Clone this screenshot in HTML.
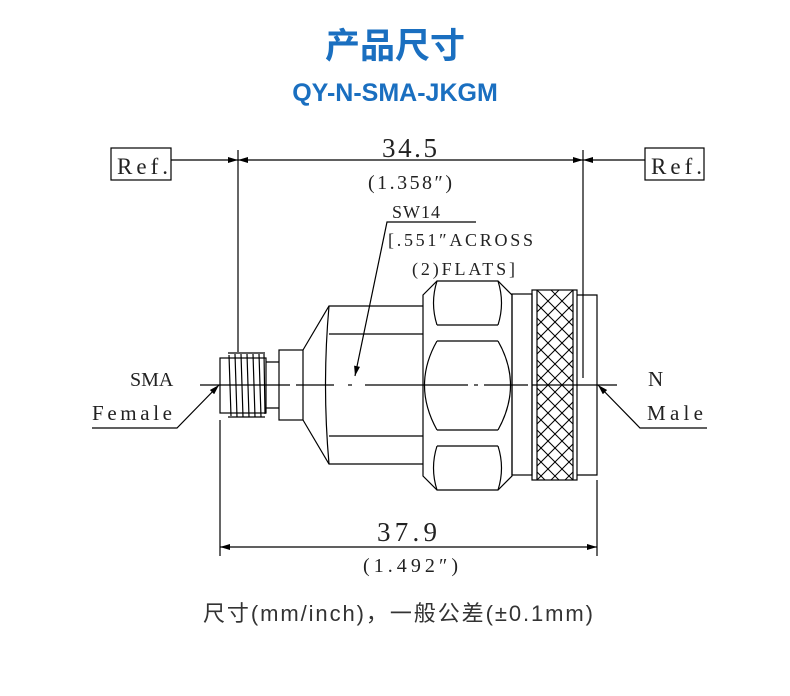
<!DOCTYPE html>
<html><head><meta charset="utf-8"><style>
body{margin:0;background:#fff;width:790px;height:696px;overflow:hidden}
svg{display:block}
.t{font-family:"Liberation Serif","Noto Serif CJK SC",serif;fill:#222}
</style></head><body>
<svg width="790" height="696" viewBox="0 0 790 696" xmlns="http://www.w3.org/2000/svg">
<defs>
<marker id="a" viewBox="0 0 10 6" refX="10" refY="3" markerWidth="14" markerHeight="6" markerUnits="userSpaceOnUse" orient="auto-start-reverse"><path d="M0,0L10,3L0,6z" fill="#000"/></marker>
<clipPath id="kc"><rect x="537" y="290" width="36" height="190"/></clipPath>
</defs>
<text x="395" y="58" text-anchor="middle" font-family="Liberation Sans,'Noto Sans CJK SC',sans-serif" font-weight="bold" font-size="35" fill="#1a6fc0">产品尺寸</text>
<text x="395" y="101" text-anchor="middle" font-family="Liberation Sans,'Noto Sans CJK SC',sans-serif" font-weight="bold" font-size="25" fill="#1a6fc0">QY-N-SMA-JKGM</text>

<g stroke="#000" stroke-width="1.2" fill="none">
<rect x="111" y="148" width="60" height="32"/>
<rect x="645" y="148" width="59" height="32"/>
<line x1="171" y1="160" x2="238" y2="160" marker-end="url(#a)"/>
<line x1="238" y1="160" x2="583" y2="160" marker-start="url(#a)" marker-end="url(#a)"/>
<line x1="645" y1="160" x2="583" y2="160" marker-end="url(#a)"/>
<line x1="238" y1="150" x2="238" y2="352"/>
<line x1="583" y1="150" x2="583" y2="378"/>
<line x1="220" y1="420" x2="220" y2="556"/>
<line x1="597" y1="480" x2="597" y2="556"/>
<line x1="220" y1="547" x2="597" y2="547" marker-start="url(#a)" marker-end="url(#a)"/>
<line x1="200" y1="385" x2="290" y2="385"/>
<line x1="296" y1="385" x2="334" y2="385"/>
<line x1="348" y1="385" x2="352" y2="385"/>
<line x1="365" y1="385" x2="468" y2="385"/>
<line x1="474" y1="385" x2="478" y2="385"/>
<line x1="484" y1="385" x2="528" y2="385"/>
<line x1="532" y1="385" x2="617" y2="385"/>
<rect x="220" y="358" width="46" height="55"/>
<path d="M228 353 L265 353 M228 417 L265 417"/>
<path d="M229 355 L231 416 M235 354 L237 417 M241 354 L243 417 M247 354 L249 417 M253 354 L255 417 M259 354 L261 417 M264 354 L265 414"/>
<path d="M266 362 L279 362 M266 408 L279 408"/>
<rect x="279" y="350" width="24" height="70"/>
<path d="M303 350 L329 306 L423 306 M303 420 L329 464 L423 464"/>
<path d="M329 306 Q322 385 329 464"/>
<path d="M329 334 L423 334 M329 436 L423 436"/>
<path d="M423 295 L437 281 L498 281 L512 295 L512 476 L498 490 L437 490 L423 476 Z"/>
<path d="M437 281 Q430 303 437 325 M498 281 Q505 303 498 325 M437 490 Q430 468 437 446 M498 490 Q505 468 498 446"/>
<path d="M437 325 L498 325 M437 341 L498 341 M437 430 L498 430 M437 446 L498 446"/>
<path d="M437 341 Q412 385 437 430 M498 341 Q523 385 498 430"/>
<rect x="512" y="294" width="20" height="181"/>
<rect x="532" y="290" width="45" height="190"/>
<path d="M537 290 L537 480 M573 290 L573 480"/>
<g clip-path="url(#kc)" stroke-width="1">
<path d="M525 292 L725 492 M525 306 L725 506 M525 320 L725 520 M525 334 L725 534 M525 348 L725 548 M525 362 L725 562 M525 376 L725 576 M525 390 L725 590 M525 404 L725 604 M525 418 L725 618 M525 432 L725 632 M525 446 L725 646 M525 460 L725 660 M525 474 L725 674 M525 278 L725 478 M525 264 L725 464"/>
<path d="M585 292 L385 492 M585 306 L385 506 M585 320 L385 520 M585 334 L385 534 M585 348 L385 548 M585 362 L385 562 M585 376 L385 576 M585 390 L385 590 M585 404 L385 604 M585 418 L385 618 M585 432 L385 632 M585 446 L385 646 M585 460 L385 660 M585 474 L385 674 M585 278 L385 478 M585 264 L385 464"/>
</g>
<path d="M577 295 L597 295 L597 475 L577 475"/>
<path d="M92 428 L177 428 L219 385" marker-end="url(#a)"/>
<path d="M707 428 L640 428 L598 385" marker-end="url(#a)"/>
<path d="M476 222 L387 222 L355 376" marker-end="url(#a)"/>
</g>

<g class="t">
<text x="117" y="174" font-size="23" textLength="51" lengthAdjust="spacing">Ref.</text>
<text x="651" y="174" font-size="23" textLength="51" lengthAdjust="spacing">Ref.</text>
<text x="382" y="157" font-size="27" textLength="55" lengthAdjust="spacing">34.5</text>
<text x="368" y="189" font-size="20" textLength="84" lengthAdjust="spacing">(1.358″)</text>
<text x="392" y="218" font-size="18" textLength="48" lengthAdjust="spacing">SW14</text>
<text x="388" y="246" font-size="18" textLength="145" lengthAdjust="spacing">[.551″ACROSS</text>
<text x="412" y="275" font-size="18" textLength="103" lengthAdjust="spacing">(2)FLATS]</text>
<text x="130" y="386" font-size="20">SMA</text>
<text x="92" y="420" font-size="21" textLength="80" lengthAdjust="spacing">Female</text>
<text x="648" y="386" font-size="21">N</text>
<text x="647" y="420" font-size="21" textLength="56" lengthAdjust="spacing">Male</text>
<text x="377" y="541" font-size="27" textLength="60" lengthAdjust="spacing">37.9</text>
<text x="363" y="572" font-size="20" textLength="95" lengthAdjust="spacing">(1.492″)</text>
</g>
<text x="203" y="621" font-family="Liberation Sans,'Noto Sans CJK SC',sans-serif" font-size="22" fill="#333" textLength="390" lengthAdjust="spacing">尺寸(mm/inch)，一般公差(±0.1mm)</text>
</svg>
</body></html>
